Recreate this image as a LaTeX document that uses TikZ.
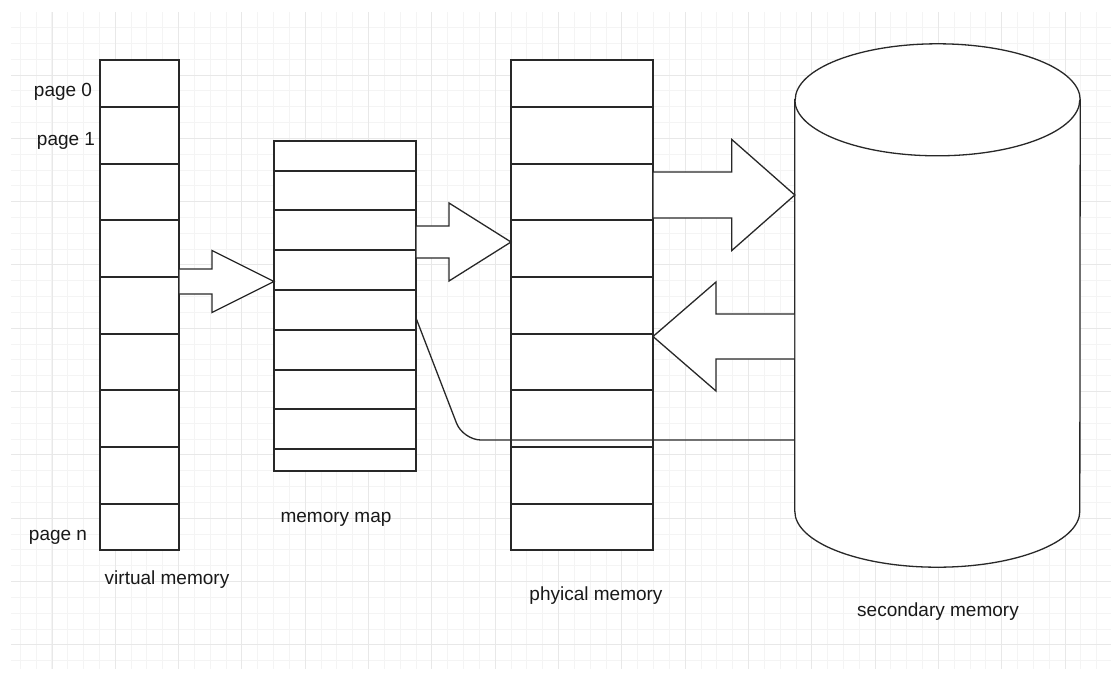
\documentclass[tikz,border=0pt]{standalone}
\usepackage{fontspec}
\setmainfont{Liberation Sans}
\usetikzlibrary{calc,positioning}
\definecolor{GridMinor}{RGB}{244,244,244}
\definecolor{GridMajor}{RGB}{232,232,232}
\definecolor{LineGray}{RGB}{40,40,40}
\tikzset{
	box/.style={draw=LineGray, line width=1.3pt, fill=white, inner sep=0pt, outer sep=0pt},
	row/.style={draw=LineGray, line width=1.3pt},
	bigarr/.style={draw=LineGray, line width=1.3pt, line join=miter},
	link/.style={draw=LineGray, line width=1.3pt},
	lbl/.style={inner sep=0pt, text=black!90, font=\fontsize{19}{23}\selectfont},
	gminor/.style={draw=GridMinor, line width=1pt},
	gmajor/.style={draw=GridMajor, line width=1pt}
}
% block arrow: from, tip, shaft half width, head half width, head length
\newcommand{\bigarrow}[5]{%
	\fill[white] let \p1=(#1), \p2=(#2), \p3=($(#2)!#5!(#1)$), \p4=($(#1)!0.7pt!(#2)$) in
	(\x4,\y1+#3) -- (\x3,\y1+#3) -- (\x3,\y1+#4) -- (\x2,\y2)
	-- (\x3,\y1-#4) -- (\x3,\y1-#3) -- (\x4,\y1-#3) -- cycle;
	\draw[bigarr] let \p1=(#1), \p2=(#2), \p3=($(#2)!#5!(#1)$) in
	(\x1,\y1+#3) -- (\x3,\y1+#3) -- (\x3,\y1+#4) -- (\x2,\y2)
	-- (\x3,\y1-#4) -- (\x3,\y1-#3) -- (\x1,\y1-#3);}

\begin{document}
\begin{tikzpicture}[x=1pt, y=-1pt]
	\useasboundingbox (0,0) rectangle (1111,673);
	\fill[white] (0,0) rectangle (1111,673);
	% background grid
	\begin{scope}
		\clip (11,12) rectangle (1111,668);
		\foreach \k in {0,...,70} \draw[gminor] ({4.5+15.83*\k},0) -- ({4.5+15.83*\k},673);
		\foreach \k in {0,...,42} \draw[gminor] (0,{11.7+15.83*\k}) -- (1111,{11.7+15.83*\k});
		\foreach \k in {0,...,18} \draw[gmajor] ({-11.3+63.32*\k},0) -- ({-11.3+63.32*\k},673);
		\foreach \k in {0,...,10} \draw[gmajor] (0,{11.7+63.32*\k}) -- (1111,{11.7+63.32*\k});
	\end{scope}
	
	% memory columns
	\node[box, minimum width=79pt, minimum height=490pt] (vm) at (139.5,305) {};
	\node[box, minimum width=142pt, minimum height=330pt] (map) at (345,306) {};
	\node[box, minimum width=142pt, minimum height=490pt] (pm) at (582,305) {};
	\foreach \y in {107,164,220,277,334,390,447,504} {
		\draw[row] (100,\y) -- (179,\y);
		\draw[row] (511,\y) -- (653,\y);
	}
	\foreach \y in {171,210,250,290,330,370,409,449}
		\draw[row] (274,\y) -- (416,\y);
	
	% secondary memory (cylinder)
	\node[minimum width=285pt, minimum height=523pt, inner sep=0pt] (sec) at (937.5,305.5) {};
	\filldraw[box] ([yshift=-56pt]sec.north west) -- ([yshift=56pt]sec.south west)
		arc[start angle=180, end angle=360, x radius=142.5pt, y radius=56pt]
		-- ([yshift=-56pt]sec.north east)
		arc[start angle=0, end angle=180, x radius=142.5pt, y radius=56pt] -- cycle;
	\draw[row] ([yshift=-56pt]sec.north west)
		arc[start angle=180, end angle=360, x radius=142.5pt, y radius=56pt];
	
	% labels
	\node[lbl] (p0) at (63,92) {page 0};
	\node[lbl] (p1) at (66,141) {page 1};
	\node[lbl] (pn) at (58,537) {page n};
	\node[lbl] (vml) at (167,580) {virtual memory};
	\node[lbl] (mapl) at (336,519) {memory map};
	\node[lbl] (pml) at (596,596) {phyical memory};
	\node[lbl] (secl) at (938,612) {secondary memory};
	
	% block arrows
	\coordinate (a1) at ([yshift=23.5pt]vm.east);
	\coordinate (t1) at (map.west |- a1);
	\bigarrow{a1}{t1}{12.5pt}{31pt}{62pt}
	\coordinate (a2) at ([yshift=64pt]map.east);
	\coordinate (t2) at (pm.west |- a2);
	\bigarrow{a2}{t2}{16pt}{39pt}{62pt}
	\coordinate (a3) at ([yshift=110pt]pm.east);
	\coordinate (t3) at (sec.west |- a3);
	\bigarrow{a3}{t3}{23pt}{55.5pt}{63pt}
	\coordinate (a4) at ([yshift=-31pt]sec.west);
	\coordinate (t4) at (pm.east |- a4);
	\bigarrow{a4}{t4}{22.5pt}{54.5pt}{63pt}
	
	% map entry to disk
	\coordinate (bend) at (463,440);
	\draw[link, rounded corners=18pt] ([yshift=-12pt]map.east) -- (bend) -- (bend -| sec.west);
\end{tikzpicture}
\end{document}
